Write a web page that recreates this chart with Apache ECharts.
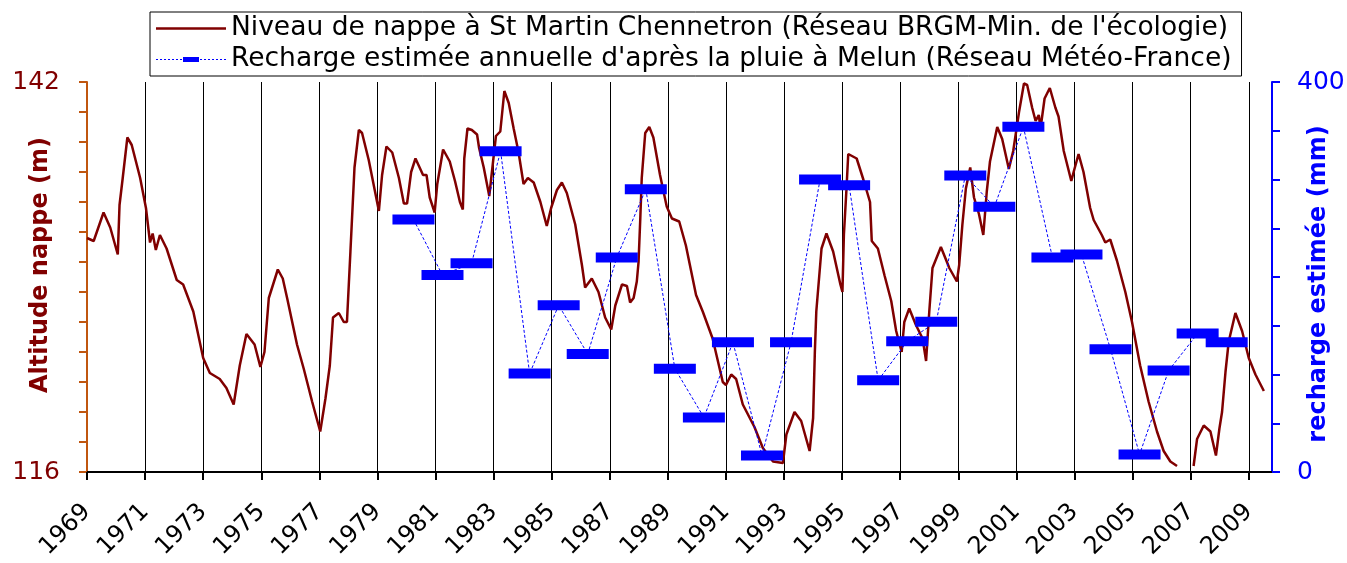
<!DOCTYPE html>
<html><head><meta charset="utf-8">
<script src="https://cdn.jsdelivr.net/npm/echarts@6/dist/echarts.min.js"></script>
<style>html,body{margin:0;padding:0;background:#fff}#c{width:1347px;height:563px}</style>
</head><body><div id="c"></div>
<script>
// Water level (m): [decimal year, altitude]
const levelPoints = [
[1969.00,131.6],[1969.23,131.4],[1969.57,133.3],[1969.80,132.3],[1970.06,130.5],[1970.12,133.8],[1970.23,135.6],[1970.39,138.3],[1970.54,137.8],[1970.83,135.6],
[1971.03,133.6],[1971.17,131.3],[1971.26,131.9],[1971.37,130.8],[1971.51,131.8],[1971.74,130.9],[1972.09,128.8],[1972.31,128.5],[1972.66,126.7],[1973.00,123.6],
[1973.23,122.6],[1973.57,122.2],[1973.80,121.6],[1974.05,120.5],[1974.26,123.1],[1974.49,125.2],[1974.77,124.5],[1974.97,123.0],[1975.11,124.0],[1975.26,127.6],
[1975.57,129.5],[1975.74,128.9],[1975.89,127.6],[1976.23,124.5],[1976.46,122.9],[1976.75,120.7],[1977.03,118.7],[1977.21,120.9],[1977.36,123.1],[1977.47,126.3],
[1977.67,126.6],[1977.84,126.0],[1977.95,126.0],[1978.07,130.7],[1978.21,136.3],[1978.36,138.8],[1978.47,138.6],[1978.70,136.8],[1979.05,133.4],[1979.16,135.8],
[1979.31,137.7],[1979.51,137.3],[1979.74,135.6],[1979.91,133.9],[1980.02,133.9],[1980.16,136.0],[1980.31,136.9],[1980.57,135.8],[1980.69,135.8],[1980.80,134.3],
[1980.97,133.3],[1981.06,135.2],[1981.26,137.5],[1981.49,136.7],[1981.67,135.4],[1981.84,134.0],[1981.94,133.5],[1981.99,136.9],[1982.10,138.9],[1982.25,138.8],
[1982.43,138.5],[1982.50,137.6],[1982.66,136.3],[1982.85,134.4],[1982.97,136.5],[1983.08,138.4],[1983.23,138.7],[1983.37,141.4],[1983.52,140.6],[1983.69,138.9],
[1983.86,137.3],[1984.03,135.2],[1984.18,135.6],[1984.38,135.3],[1984.61,134.0],[1984.83,132.4],[1984.98,133.6],[1985.18,134.8],[1985.35,135.3],[1985.52,134.6],
[1985.81,132.5],[1986.04,129.8],[1986.15,128.3],[1986.38,128.9],[1986.61,128.0],[1986.84,126.3],[1987.05,125.5],[1987.19,127.1],[1987.42,128.5],[1987.59,128.4],
[1987.70,127.3],[1987.82,127.6],[1987.93,128.7],[1987.99,130.0],[1988.05,132.9],[1988.10,135.6],[1988.22,138.6],[1988.36,139.0],[1988.50,138.3],[1988.73,135.8],
[1988.96,133.7],[1989.14,132.9],[1989.39,132.7],[1989.62,131.1],[1989.97,127.8],[1990.20,126.7],[1990.54,124.9],[1990.89,122.0],[1991.00,121.8],[1991.18,122.5],
[1991.35,122.2],[1991.58,120.5],[1991.98,119.0],[1992.27,117.6],[1992.62,116.7],[1992.96,116.6],[1993.08,118.5],[1993.36,120.0],[1993.59,119.4],[1993.88,117.4],
[1994.00,119.6],[1994.06,124.0],[1994.11,126.7],[1994.29,130.9],[1994.46,131.9],[1994.69,130.7],[1994.94,128.5],[1995.01,128.0],[1995.06,131.8],[1995.15,134.9],
[1995.21,137.2],[1995.50,136.9],[1995.73,135.5],[1995.96,134.0],[1996.02,131.4],[1996.23,130.9],[1996.46,129.1],[1996.69,127.4],[1996.86,125.4],[1997.05,124.0],
[1997.14,126.0],[1997.31,126.9],[1997.54,125.8],[1997.77,124.9],[1997.89,123.4],[1998.00,126.7],[1998.11,129.6],[1998.40,131.0],[1998.69,129.6],[1998.95,128.7],
[1999.03,129.8],[1999.14,132.5],[1999.26,134.9],[1999.41,136.3],[1999.54,134.3],[1999.71,133.2],[1999.86,131.8],[1999.98,134.7],[2000.09,136.7],[2000.34,139.0],
[2000.51,138.2],[2000.74,136.2],[2000.89,137.4],[2001.09,140.0],[2001.26,141.9],[2001.37,141.8],[2001.54,140.3],[2001.66,139.4],[2001.77,139.8],[2001.83,138.9],
[2001.97,140.9],[2002.15,141.6],[2002.34,140.3],[2002.45,139.7],[2002.63,137.4],[2002.89,135.4],[2002.97,136.0],[2003.14,137.2],[2003.31,136.0],[2003.54,133.6],
[2003.66,132.8],[2003.94,131.8],[2004.06,131.3],[2004.23,131.5],[2004.46,130.1],[2004.75,128.0],[2004.98,126.0],[2005.26,123.1],[2005.55,120.7],[2005.84,118.7],
[2006.07,117.4],[2006.30,116.7],[2006.53,116.4],[2006.80,null],[2007.10,116.4],[2007.22,118.2],[2007.45,119.1],[2007.68,118.7],[2007.87,117.1],[2007.99,118.9],
[2008.08,120.0],[2008.20,122.7],[2008.31,124.7],[2008.54,126.6],[2008.77,125.4],[2009.00,123.6],[2009.23,122.5],[2009.52,121.4]
];
// Annual recharge (mm)
const rechargeYears = [1980,1981,1982,1983,1984,1985,1986,1987,1988,1989,1990,1991,1992,1993,1994,1995,1996,1997,1998,1999,2000,2001,2002,2003,2004,2005,2006,2007,2008];
const rechargeValues = [259,202,214,329,101,171,121,220,290,106,56,133,17,133,300,294,94,134,154,304,272,354,220,223,126,18,104,142,133];
const rechargeDateOffset = 0.24; // recharge values dated ~April of each year
const xLabelYears = [1969,1971,1973,1975,1977,1979,1981,1983,1985,1987,1989,1991,1993,1995,1997,1999,2001,2003,2005,2007,2009];
const leftLabels = [116,142];
const rightLabels = [0,400];
const nameLevel = "Niveau de nappe à St Martin Chennetron (Réseau BRGM-Min. de l'écologie)";
const nameRecharge = "Recharge estimée annuelle d'après la pluie à Melun (Réseau Météo-France)";

const FONT = 'DejaVu Sans';
const RED = '#800000';
const AXIS_BROWN = '#c0560f';
const BLUE = '#0000ff';

// legend icon paths (70 x 8 box)
function levelIcon(){
  return 'path://M0,0L70,0L0,0ZM0,8L70,8L0,8ZM0,2.7L70,2.7L70,5.3L0,5.3Z';
}
function rechargeIcon(){
  let p = 'path://M0,0L70,0L0,0ZM0,8L70,8L0,8Z';
  for (let x = 0; x < 70; x += 4) {
    if (x > 24 && x < 44) continue;
    p += 'M'+x+',3.5L'+(x+2)+',3.5L'+(x+2)+',4.6L'+x+',4.6Z';
  }
  p += 'M27,1.5L43,1.5L43,6.5L27,6.5Z';
  return p;
}

const chart = echarts.init(document.getElementById('c'), null, {renderer:'canvas'});
chart.setOption({
  animation:false,
  backgroundColor:'#fff',
  textStyle:{fontFamily:FONT},
  grid:{left:87,right:75,top:82,bottom:91,containLabel:false,outerBoundsMode:'none'},
  legend:{
    orient:'vertical', left:150, top:12,
    itemWidth:70, itemHeight:8, itemGap:4,
    padding:[3,10,3,6],
    borderColor:'#000', borderWidth:1, backgroundColor:'#fff',
    itemStyle:{borderWidth:0},
    textStyle:{fontFamily:FONT, fontSize:26.5, color:'#000', lineHeight:27},
    data:[{name:nameLevel, icon:levelIcon()},{name:nameRecharge, icon:rechargeIcon()}]
  },
  xAxis:{
    type:'value', min:1969, max:2009.8, interval:1,
    axisLine:{onZero:false, lineStyle:{color:'#000', width:2}},
    axisTick:{show:true, customValues:xLabelYears, length:8, lineStyle:{color:'#000', width:2}},
    axisLabel:{customValues:xLabelYears, rotate:45, fontSize:24, fontFamily:FONT, color:'#000', margin:36,
      formatter:v=>String(v)},
    splitLine:{show:true, lineStyle:{color:'#000', width:1}}
  },
  yAxis:[{
    type:'value', min:116, max:142, interval:2, position:'left',
    axisLine:{show:true, onZero:false, lineStyle:{color:AXIS_BROWN, width:2}},
    axisTick:{show:true, length:8, lineStyle:{color:AXIS_BROWN, width:2}},
    axisLabel:{customValues:leftLabels, color:RED, fontSize:25, fontFamily:FONT, margin:27, formatter:v=>String(v)},
    splitLine:{show:false},
    name:'Altitude nappe (m)', nameLocation:'middle', nameRotate:90, nameGap:34, nameMoveOverlap:false,
    nameTextStyle:{color:RED, fontWeight:'bold', fontSize:24, fontFamily:FONT, padding:[0,0,0,24]}
  },{
    type:'value', min:0, max:400, interval:50, position:'right',
    axisLine:{show:true, onZero:false, lineStyle:{color:BLUE, width:2}},
    axisTick:{show:true, length:8, lineStyle:{color:BLUE, width:2}},
    axisLabel:{customValues:rightLabels, color:BLUE, fontSize:25, fontFamily:FONT, margin:25, formatter:v=>String(v)},
    splitLine:{show:false},
    name:'recharge estimée (mm)', nameLocation:'middle', nameRotate:90, nameGap:35, nameMoveOverlap:false,
    nameTextStyle:{color:BLUE, fontWeight:'bold', fontSize:24, fontFamily:FONT, padding:[0,14,0,0]}
  }],
  series:[{
    name:nameLevel, type:'line', yAxisIndex:0,
    data:levelPoints, symbol:'none', showSymbol:false, connectNulls:false,
    lineStyle:{color:RED, width:2.5}, itemStyle:{color:RED}, z:2
  },{
    name:nameRecharge, type:'line', yAxisIndex:1,
    data:rechargeYears.map((y,i)=>[y+rechargeDateOffset, rechargeValues[i]]),
    symbol:'rect', symbolSize:[42,10], showSymbol:true,
    lineStyle:{color:BLUE, width:1, type:[3,2]}, itemStyle:{color:BLUE}, z:3
  }]
});
</script>
</body></html>
